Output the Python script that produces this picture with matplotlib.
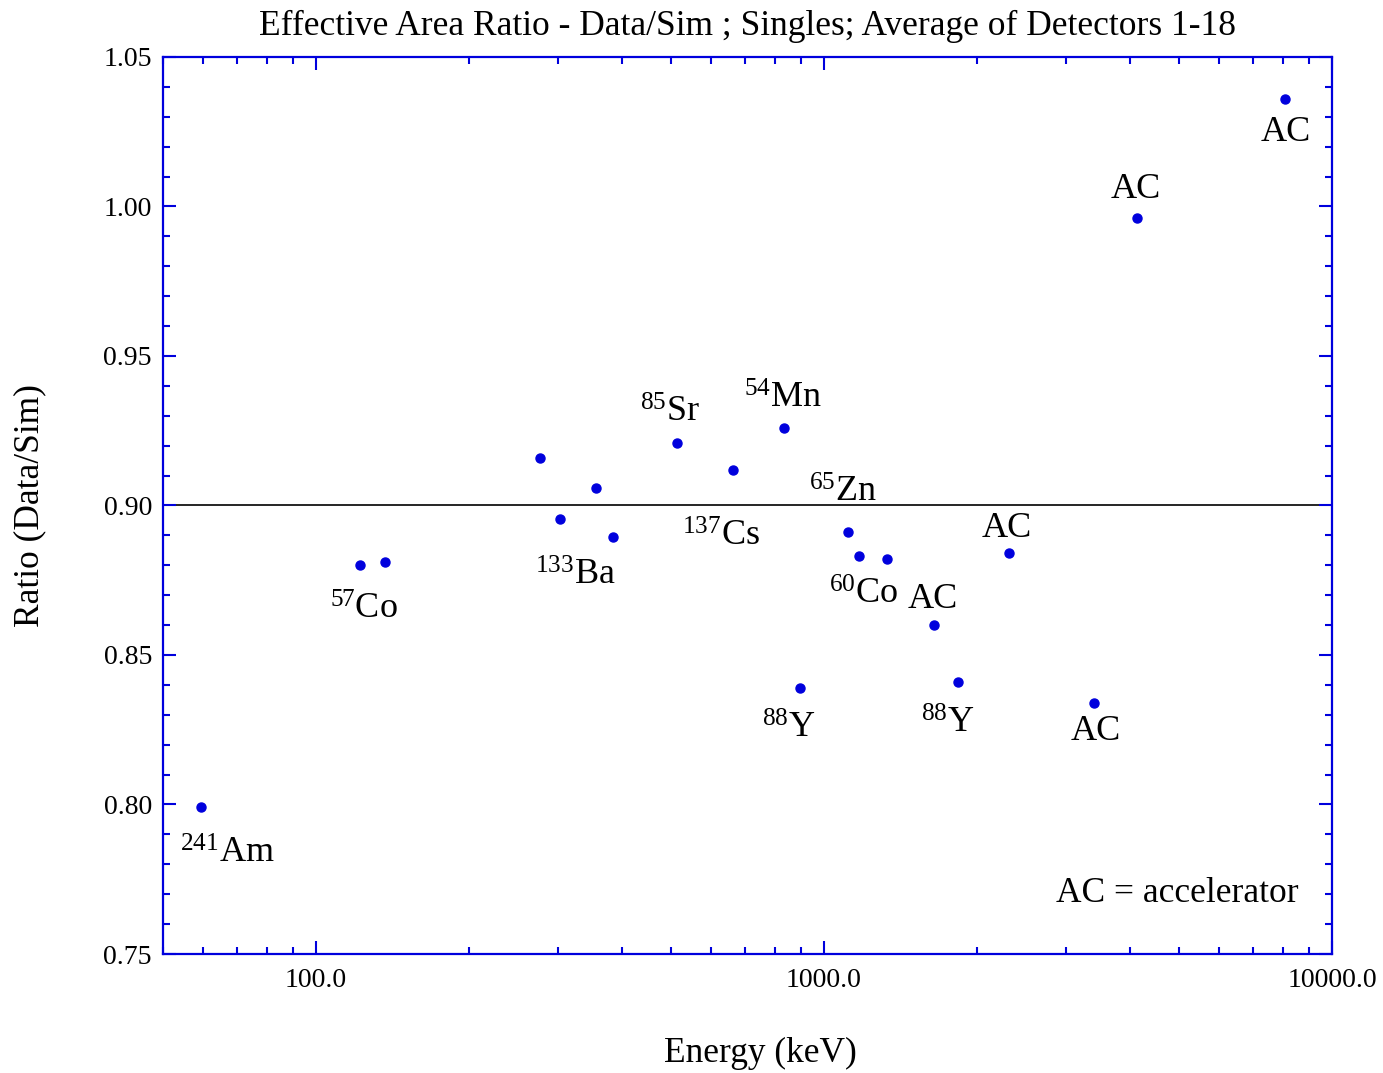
import matplotlib
matplotlib.use("Agg")
import matplotlib.pyplot as plt
from matplotlib.ticker import FixedLocator, FuncFormatter, MultipleLocator, LogLocator, NullFormatter

plt.rcParams['font.family'] = ['Liberation Serif', 'DejaVu Serif']
plt.rcParams['mathtext.fontset'] = 'custom'
plt.rcParams['mathtext.rm'] = 'Liberation Serif'
plt.rcParams['mathtext.it'] = 'Liberation Serif:italic'
plt.rcParams['mathtext.bf'] = 'Liberation Serif:bold'

# Gamma-line energies (keV) and measured/simulated effective-area ratios
energy = [59.5, 122.1, 136.5, 276.4, 302.9, 356.0, 383.8, 514.0, 661.7,
          834.8, 898.0, 1115.5, 1173.2, 1332.5, 1650.0, 1836.1, 2313.0,
          3400.0, 4130.0, 8070.0]
ratio = [0.799, 0.880, 0.881, 0.916, 0.8955, 0.906, 0.8895, 0.921, 0.912,
         0.926, 0.839, 0.891, 0.883, 0.882, 0.860, 0.841, 0.884,
         0.834, 0.996, 1.036]

# Source labels: (index of the point, text, offset in pixels)
label_index = [0, 1, 4, 7, 8, 9, 10, 11, 12, 14, 15, 16, 17, 18, 19]
label_text = [r'$^{241}$Am', r'$^{57}$Co', r'$^{133}$Ba', r'$^{85}$Sr',
              r'$^{137}$Cs', r'$^{54}$Mn', r'$^{88}$Y', r'$^{65}$Zn',
              r'$^{60}$Co', 'AC', r'$^{88}$Y', 'AC', 'AC', 'AC', 'AC']
label_dx = [26, 4, 15, -7, -12, -1, -11, -5, 4, -2, -10, -2, 2, -1, 1]
label_dy = [-47, -45, -57, 29, -68, 28, -41, 39, -39, 26, -42, 25, -29, 29, -34]

reference_level = 0.90

blue = '#0000DD'

fig = plt.figure(figsize=(13.83, 10.73), dpi=100)
ax = fig.add_axes([0.1179, 0.1109, 0.9631 - 0.1179, 0.9469 - 0.1109])

ax.axhline(reference_level, color='black', lw=1.2, zorder=1)
ax.plot(energy, ratio, 'o', color=blue, ms=6.5, mec=blue, zorder=3)

for i, txt, dx, dy in zip(label_index, label_text, label_dx, label_dy):
    ax.annotate(txt, (energy[i], ratio[i]), xytext=(dx, dy),
                textcoords='offset pixels', ha='center', va='center',
                fontsize=26)

ax.text(0.868, 0.067, 'AC = accelerator', transform=ax.transAxes,
        ha='center', va='center', fontsize=25.5)

ax.set_xscale('log')
ax.set_xlim(50, 10000)
ax.set_ylim(0.75, 1.05)

ax.xaxis.set_major_locator(FixedLocator([100, 1000, 10000]))
ax.xaxis.set_major_formatter(FuncFormatter(lambda v, p: f'{v:.1f}'))
ax.xaxis.set_minor_locator(LogLocator(base=10, subs=range(2, 10), numticks=20))
ax.xaxis.set_minor_formatter(NullFormatter())
ax.yaxis.set_major_locator(MultipleLocator(0.05))
ax.yaxis.set_minor_locator(MultipleLocator(0.01))
ax.yaxis.set_major_formatter(FuncFormatter(lambda v, p: f'{v:.2f}'))

for s in ax.spines.values():
    s.set_color(blue)
    s.set_linewidth(1.6)

ax.tick_params(which='both', direction='in', top=True, right=True,
               color=blue, width=1.5, labelsize=20)
ax.tick_params(which='major', length=9.5, pad=8)
ax.tick_params(axis='x', which='major', pad=10)
ax.tick_params(which='minor', length=5)

ax.set_title('Effective Area Ratio - Data/Sim ; Singles; Average of Detectors 1-18',
             fontsize=25.5, pad=16)
ax.set_xlabel('Energy (keV)', fontsize=25.5)
ax.set_ylabel('Ratio (Data/Sim)', fontsize=25.5)
ax.xaxis.set_label_coords(0.511, -0.093)
ax.yaxis.set_label_coords(-0.0995, 0.5)

fig.savefig('out.png', dpi=100)
